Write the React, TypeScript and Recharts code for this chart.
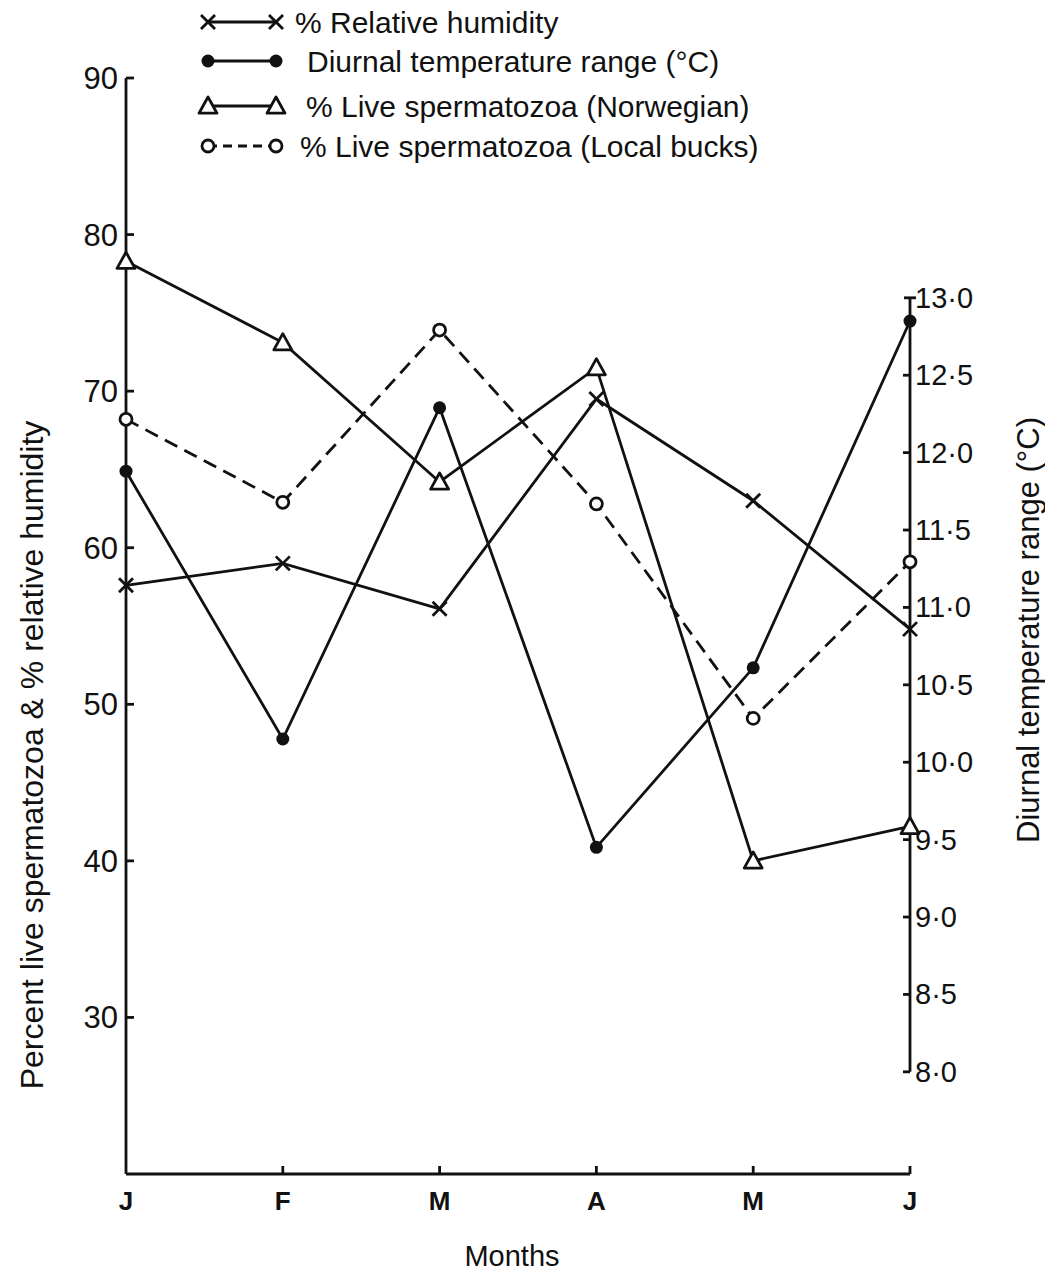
import React from "react";
import { LineChart, Line, XAxis, YAxis, ReferenceLine } from "recharts";

const months = ["Jan", "Feb", "Mar", "Apr", "May", "Jun"];
const monthLabels = ["J", "F", "M", "A", "M", "J"];

// left axis (%)
const relativeHumidity = [57.6, 59.0, 56.1, 69.5, 63.0, 54.8];
const liveNorwegian = [78.3, 73.1, 64.2, 71.5, 40.0, 42.2];
const liveLocalBucks = [68.2, 62.9, 73.9, 62.8, 49.1, 59.1];
// right axis (°C)
const diurnalRange = [11.88, 10.15, 12.29, 9.45, 10.61, 12.85];

const leftTicks = [30, 40, 50, 60, 70, 80, 90];
const rightTicks = [8, 8.5, 9, 9.5, 10, 10.5, 11, 11.5, 12, 12.5, 13];

const data = months.map((m, i) => ({
  month: m,
  rh: relativeHumidity[i],
  temp: diurnalRange[i],
  nor: liveNorwegian[i],
  loc: liveLocalBucks[i],
}));

const W = 1045;
const H = 1274;
const PLOT_LEFT = 126;
const PLOT_RIGHT = 910;
const PLOT_TOP = 78;
const PLOT_BOTTOM = 1174;
const FONT = "'Liberation Sans', Arial, sans-serif";
const INK = "#111";
const SW = 2.8;

const CrossDot = (p: any) => {
  const { cx, cy } = p;
  if (cx == null || cy == null) return null;
  const s = 7;
  return (
    <g key={`x-${p.index}`}>
      <line x1={cx - s} y1={cy - s} x2={cx + s} y2={cy + s} stroke={INK} strokeWidth={SW} />
      <line x1={cx - s} y1={cy + s} x2={cx + s} y2={cy - s} stroke={INK} strokeWidth={SW} />
    </g>
  );
};

const FilledDot = (p: any) => {
  const { cx, cy } = p;
  if (cx == null || cy == null) return null;
  return <circle key={`d-${p.index}`} cx={cx} cy={cy} r={6.5} fill={INK} />;
};

const TriangleDot = (p: any) => {
  const { cx, cy } = p;
  if (cx == null || cy == null) return null;
  const s = 9;
  return (
    <polygon
      key={`t-${p.index}`}
      points={`${cx},${cy - s} ${cx - s},${cy + s * 0.8} ${cx + s},${cy + s * 0.8}`}
      fill="#fff"
      stroke={INK}
      strokeWidth={SW}
      strokeLinejoin="round"
    />
  );
};

const OpenDot = (p: any) => {
  const { cx, cy } = p;
  if (cx == null || cy == null) return null;
  return <circle key={`o-${p.index}`} cx={cx} cy={cy} r={6} fill="#fff" stroke={INK} strokeWidth={SW} />;
};

const LeftTick = (p: any) => {
  const y = p.payload.coordinate;
  return (
    <g>
      <line x1={PLOT_LEFT} y1={y} x2={PLOT_LEFT + 8} y2={y} stroke={INK} strokeWidth={SW} />
      <text x={PLOT_LEFT - 8} y={y + 11} textAnchor="end" fontSize={31} fill={INK} fontFamily={FONT}>
        {p.payload.value}
      </text>
    </g>
  );
};

const RightTick = (p: any) => {
  const y = p.payload.coordinate;
  const v: number = p.payload.value;
  const cap = v === 13;
  return (
    <g>
      <line x1={cap ? PLOT_RIGHT - 6 : PLOT_RIGHT - 7} y1={y} x2={cap ? PLOT_RIGHT + 6 : PLOT_RIGHT} y2={y} stroke={INK} strokeWidth={SW} />
      <text x={PLOT_RIGHT + 5} y={y + 10} textAnchor="start" fontSize={29} fill={INK} fontFamily={FONT}>
        {v.toFixed(1).replace(".", "·")}
      </text>
    </g>
  );
};

const BottomTick = (p: any) => {
  const x = p.payload.coordinate;
  const i = p.payload.index;
  return (
    <g>
      {i > 0 && <line x1={x} y1={PLOT_BOTTOM} x2={x} y2={PLOT_BOTTOM - 8} stroke={INK} strokeWidth={SW} />}
      <text x={x} y={PLOT_BOTTOM + 36} textAnchor="middle" fontSize={26} fontWeight="bold" fill={INK} fontFamily={FONT}>
        {monthLabels[i]}
      </text>
    </g>
  );
};

const legendItems = [
  { label: "% Relative humidity", y: 22, marker: "x", dashed: false, tx: 295 },
  { label: "Diurnal temperature range (°C)", y: 61, marker: "dot", dashed: false, tx: 307 },
  { label: "% Live spermatozoa (Norwegian)", y: 106, marker: "tri", dashed: false, tx: 306 },
  { label: "% Live spermatozoa (Local bucks)", y: 146, marker: "open", dashed: true, tx: 300 },
];

const marker = (kind: string, cx: number, cy: number, k: string) => {
  const p = { cx, cy, index: k };
  if (kind === "x") return CrossDot(p);
  if (kind === "dot") return FilledDot(p);
  if (kind === "tri") return TriangleDot(p);
  return OpenDot(p);
};

const Decorations = () => (
  <g>
    {legendItems.map((it, i) => (
      <g key={i}>
        <line
          x1={208}
          y1={it.y}
          x2={276}
          y2={it.y}
          stroke={INK}
          strokeWidth={SW}
          strokeDasharray={it.dashed ? "9 6" : undefined}
        />
        {marker(it.marker, 208, it.y, `a${i}`)}
        {marker(it.marker, 276, it.y, `b${i}`)}
        <text x={it.tx} y={it.y + 11} fontSize={30} fill={INK} fontFamily={FONT}>
          {it.label}
        </text>
      </g>
    ))}
    <text
      transform="translate(43, 755) rotate(-90)"
      textAnchor="middle"
      fontSize={32}
      fill={INK}
      fontFamily={FONT}
    >
      Percent live spermatozoa &amp; % relative humidity
    </text>
    <text
      transform="translate(1039, 630) rotate(-90)"
      textAnchor="middle"
      fontSize={31}
      fill={INK}
      fontFamily={FONT}
    >
      Diurnal temperature range (°C)
    </text>
    <text x={512} y={1266} textAnchor="middle" fontSize={29} fill={INK} fontFamily={FONT}>
      Months
    </text>
  </g>
);

export default function App() {
  return (
    <div style={{ position: "absolute", left: 0, top: 0, width: W, height: H, background: "#fff" }}>
      <LineChart
        width={W}
        height={H}
        data={data}
        margin={{ top: PLOT_TOP, right: 0, bottom: 0, left: 0 }}
      >
        <XAxis
          dataKey="month"
          height={H - PLOT_BOTTOM}
          axisLine={{ stroke: INK, strokeWidth: SW }}
          tickLine={false}
          tick={<BottomTick />}
          interval={0}
        />
        <YAxis
          yAxisId="left"
          orientation="left"
          width={PLOT_LEFT}
          domain={[20, 90]}
          ticks={leftTicks}
          allowDataOverflow
          axisLine={{ stroke: INK, strokeWidth: SW }}
          tickLine={false}
          tick={<LeftTick />}
        />
        <YAxis
          yAxisId="right"
          orientation="right"
          width={W - PLOT_RIGHT}
          domain={[7.34, 14.42]}
          ticks={rightTicks}
          allowDataOverflow
          axisLine={false}
          tickLine={false}
          tick={<RightTick />}
        />
        <ReferenceLine
          yAxisId="right"
          segment={[
            { x: "Jun", y: 8 },
            { x: "Jun", y: 13 },
          ]}
          stroke={INK}
          strokeWidth={SW}
        />
        <Line
          yAxisId="left"
          dataKey="rh"
          stroke={INK}
          strokeWidth={SW}
          dot={CrossDot}
          activeDot={false}
          isAnimationActive={false}
        />
        <Line
          yAxisId="right"
          dataKey="temp"
          stroke={INK}
          strokeWidth={SW}
          dot={FilledDot}
          activeDot={false}
          isAnimationActive={false}
        />
        <Line
          yAxisId="left"
          dataKey="nor"
          stroke={INK}
          strokeWidth={SW}
          dot={TriangleDot}
          activeDot={false}
          isAnimationActive={false}
        />
        <Line
          yAxisId="left"
          dataKey="loc"
          stroke={INK}
          strokeWidth={SW}
          strokeDasharray="14 8"
          dot={OpenDot}
          activeDot={false}
          isAnimationActive={false}
        />
        <Decorations />
      </LineChart>
    </div>
  );
}
